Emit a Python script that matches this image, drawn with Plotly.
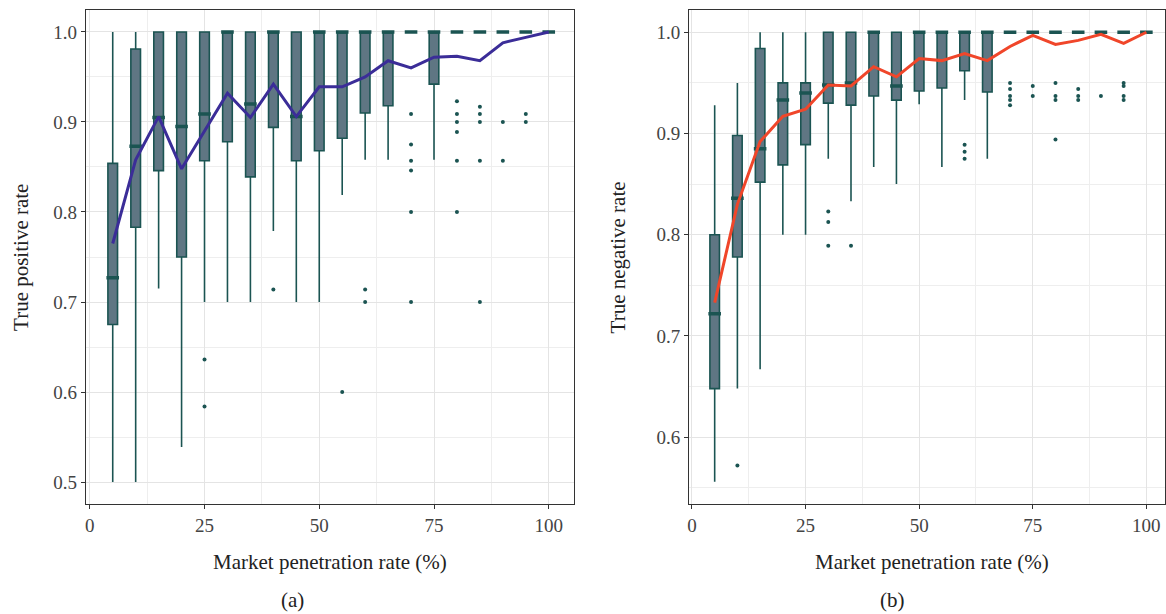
import plotly.graph_objects as go

W, H = 1166, 614

# ---------------- data ----------------
mpr = [5, 10, 15, 20, 25, 30, 35, 40, 45, 50, 55, 60, 65, 70, 75, 80, 85, 90, 95, 100]

# (a) True positive rate
tpr_lower = [0.500, 0.500, 0.715, 0.539, 0.700, 0.700, 0.700, 0.779, 0.700, 0.700,
             0.819, 0.858, 0.858, 1.0, 0.858, 1.0, 1.0, 1.0, 1.0, 1.0]
tpr_q1 = [0.675, 0.783, 0.846, 0.750, 0.857, 0.878, 0.839, 0.894, 0.857, 0.868,
          0.882, 0.910, 0.918, 1.0, 0.942, 1.0, 1.0, 1.0, 1.0, 1.0]
tpr_med = [0.727, 0.873, 0.905, 0.895, 0.909, 1.0, 0.920, 1.0, 0.906, 1.0,
           1.0, 1.0, 1.0, 1.0, 1.0, 1.0, 1.0, 1.0, 1.0, 1.0]
tpr_q3 = [0.854, 0.981, 1.0, 1.0, 1.0, 1.0, 1.0, 1.0, 1.0, 1.0,
          1.0, 1.0, 1.0, 1.0, 1.0, 1.0, 1.0, 1.0, 1.0, 1.0]
tpr_upper = [1.0] * 20
tpr_mean = [0.765, 0.858, 0.906, 0.848, 0.890, 0.932, 0.905, 0.942, 0.906, 0.939,
            0.939, 0.950, 0.968, 0.960, 0.972, 0.973, 0.968, 0.988, 0.994, 1.0]
tpr_out_x = [25, 25, 40, 55, 60, 60,
             70, 70, 70, 70, 70, 70,
             80, 80, 80, 80, 80, 80,
             85, 85, 85, 85, 85,
             90, 90, 95, 95]
tpr_out_y = [0.636, 0.584, 0.714, 0.600, 0.714, 0.700,
             0.909, 0.875, 0.857, 0.846, 0.800, 0.700,
             0.923, 0.909, 0.900, 0.889, 0.857, 0.800,
             0.917, 0.909, 0.900, 0.857, 0.700,
             0.900, 0.857, 0.909, 0.900]

# (b) True negative rate
tnr_lower = [0.556, 0.648, 0.667, 0.800, 0.800, 0.875, 0.833, 0.867, 0.850, 0.929,
             0.867, 0.933, 0.875, 1.0, 1.0, 1.0, 1.0, 1.0, 1.0, 1.0]
tnr_q1 = [0.648, 0.778, 0.852, 0.869, 0.889, 0.930, 0.928, 0.937, 0.933, 0.942,
          0.945, 0.962, 0.941, 1.0, 1.0, 1.0, 1.0, 1.0, 1.0, 1.0]
tnr_med = [0.722, 0.836, 0.885, 0.933, 0.940, 0.948, 0.950, 1.0, 0.947, 1.0,
           1.0, 1.0, 1.0, 1.0, 1.0, 1.0, 1.0, 1.0, 1.0, 1.0]
tnr_q3 = [0.800, 0.898, 0.984, 0.950, 0.950, 1.0, 1.0, 1.0, 1.0, 1.0,
          1.0, 1.0, 1.0, 1.0, 1.0, 1.0, 1.0, 1.0, 1.0, 1.0]
tnr_upper = [0.928, 0.950, 1.0, 1.0, 1.0, 1.0, 1.0, 1.0, 1.0, 1.0,
             1.0, 1.0, 1.0, 1.0, 1.0, 1.0, 1.0, 1.0, 1.0, 1.0]
tnr_mean = [0.733, 0.830, 0.892, 0.917, 0.924, 0.948, 0.947, 0.966, 0.956, 0.974,
            0.972, 0.979, 0.972, 0.986, 0.997, 0.988, 0.992, 0.998, 0.989, 1.0]
tnr_out_x = [10, 30, 30, 30, 35, 60, 60, 60,
             70, 70, 70, 70, 70,
             75, 75, 80, 80, 80, 80,
             85, 85, 85, 90, 95, 95, 95, 95]
tnr_out_y = [0.572, 0.823, 0.8125, 0.789, 0.789, 0.889, 0.882, 0.875,
             0.950, 0.944, 0.937, 0.933, 0.928,
             0.947, 0.937, 0.950, 0.937, 0.933, 0.894,
             0.944, 0.937, 0.933, 0.937, 0.950, 0.947, 0.937, 0.933]

x_ticks = [0, 25, 50, 75, 100]
y_ticks_a = [0.5, 0.6, 0.7, 0.8, 0.9, 1.0]
y_ticks_b = [0.6, 0.7, 0.8, 0.9, 1.0]

# ---------------- style ----------------
BOX_FILL = "#5f7683"
BOX_LINE = "#1b5452"
FONT = "Liberation Serif"

fig = go.Figure()


def add_panel(xa, ya, lower, q1, med, q3, upper, mean, ox, oy, line_color):
    fig.add_trace(go.Box(
        x=mpr, q1=q1, median=med, q3=q3, lowerfence=lower, upperfence=upper,
        width=2.1, boxpoints=False, whiskerwidth=0,
        fillcolor=BOX_FILL, line=dict(color=BOX_LINE, width=1.6),
        xaxis=xa, yaxis=ya, showlegend=False, hoverinfo="skip"))
    # thicker median bars (as in ggplot boxplots)
    fig.add_trace(go.Scatter(
        x=mpr, y=med, mode="markers",
        marker=dict(symbol="line-ew", size=9, line=dict(color=BOX_LINE, width=3.5)),
        xaxis=xa, yaxis=ya, showlegend=False, hoverinfo="skip"))
    fig.add_trace(go.Scatter(
        x=ox, y=oy, mode="markers",
        marker=dict(color=BOX_LINE, size=4),
        xaxis=xa, yaxis=ya, showlegend=False, hoverinfo="skip"))
    fig.add_trace(go.Scatter(
        x=mpr, y=mean, mode="lines",
        line=dict(color=line_color, width=3),
        xaxis=xa, yaxis=ya, showlegend=False, hoverinfo="skip"))


add_panel("x", "y", tpr_lower, tpr_q1, tpr_med, tpr_q3, tpr_upper, tpr_mean,
          tpr_out_x, tpr_out_y, "#3b2d98")
add_panel("x2", "y2", tnr_lower, tnr_q1, tnr_med, tnr_q3, tnr_upper, tnr_mean,
          tnr_out_x, tnr_out_y, "#f0462a")

ydom = [1 - 504 / H, 1 - 10 / H]

axis_common = dict(
    showline=True, linecolor="#333333", linewidth=1.2, mirror=True,
    ticks="outside", ticklen=4, tickcolor="#333333", tickwidth=1.2,
    showgrid=True, gridcolor="#e4e4e4", gridwidth=1.3,
    zeroline=False,
    tickfont=dict(family=FONT, size=19, color="#444444"),
)
minor_x = dict(tickvals=[12.5, 37.5, 62.5, 87.5], showgrid=True,
               gridcolor="#eeeeee", gridwidth=0.8, ticks="")
minor_y = dict(tickvals=[0.55, 0.65, 0.75, 0.85, 0.95], showgrid=True,
               gridcolor="#eeeeee", gridwidth=0.8, ticks="")

fig.update_layout(
    width=W, height=H,
    margin=dict(l=0, r=0, t=0, b=0),
    paper_bgcolor="white", plot_bgcolor="white",
    xaxis=dict(domain=[84 / W, 573 / W], range=[-0.87, 105.4],
               tickvals=x_ticks, ticktext=[str(v) for v in x_ticks],
               minor=minor_x, anchor="y", **axis_common),
    yaxis=dict(domain=ydom, range=[0.4756, 1.0244],
               tickvals=y_ticks_a, ticktext=[f"{v:.1f}" for v in y_ticks_a],
               minor=minor_y, anchor="x", **axis_common),
    xaxis2=dict(domain=[689 / W, 1.0], range=[-0.6, 104.1],
                tickvals=x_ticks, ticktext=[str(v) for v in x_ticks],
                minor=minor_x, anchor="y2", **axis_common),
    yaxis2=dict(domain=ydom, range=[0.534, 1.022],
                tickvals=y_ticks_b, ticktext=[f"{v:.1f}" for v in y_ticks_b],
                minor=minor_y, anchor="x2", **axis_common),
)


def ann(text, px, py, size=21, angle=0):
    fig.add_annotation(text=text, x=px / W, y=1 - py / H, xref="paper", yref="paper",
                       showarrow=False, textangle=angle,
                       font=dict(family=FONT, size=size, color="#222222"),
                       xanchor="center", yanchor="middle")


ann("Market penetration rate (%)", 329, 562)
ann("Market penetration rate (%)", 932, 562)
ann("True positive rate", 19, 257, angle=-90)
ann("True negative rate", 618, 257, angle=-90)
ann("(a)", 291, 600)
ann("(b)", 893, 600)

fig.write_html("out.html",
               config={"displayModeBar": False},
               post_script="document.body.style.margin='0px';document.body.style.overflow='hidden';")
